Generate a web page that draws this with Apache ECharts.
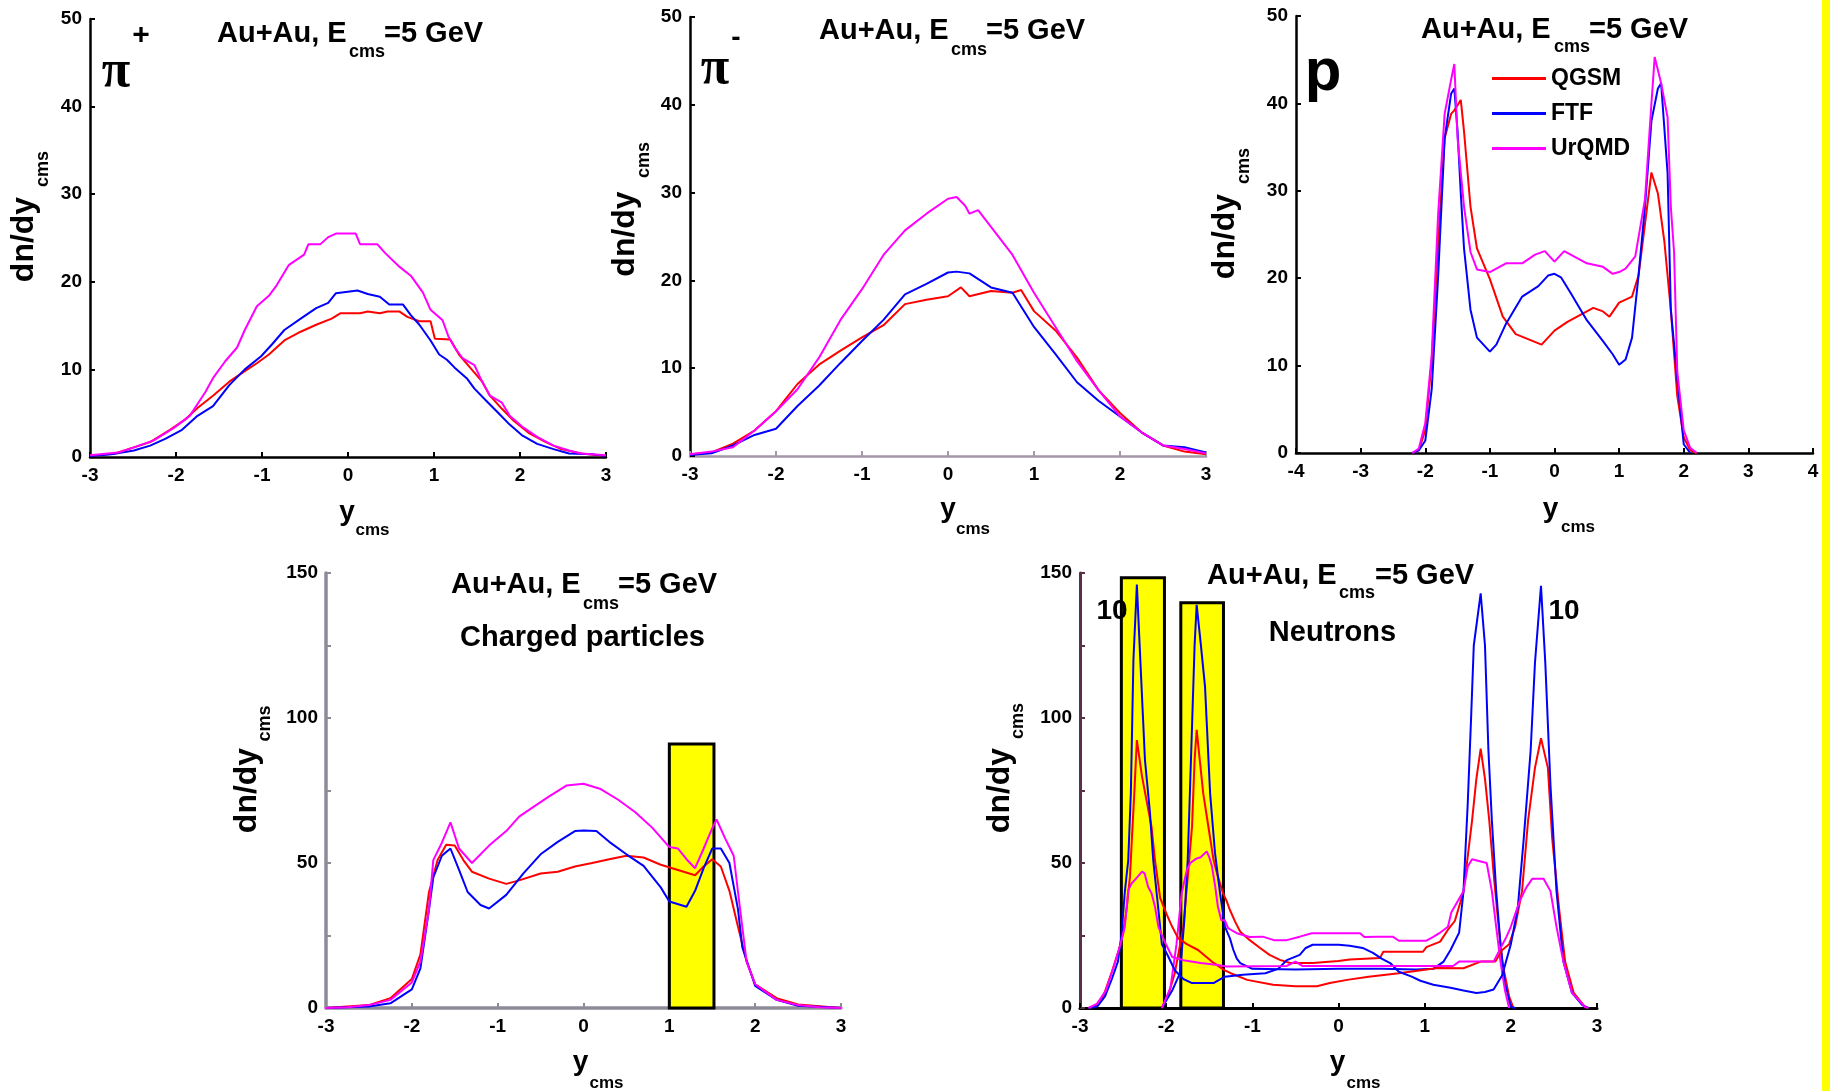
<!DOCTYPE html>
<html><head><meta charset="utf-8">
<script src="https://cdn.jsdelivr.net/npm/echarts/dist/echarts.min.js"></script>
<style>html,body{margin:0;padding:0;background:#fff}#c{width:1830px;height:1091px}</style>
</head><body><div id="c"></div>
<script>
// ---------- DATA ----------
const models = ['QGSM', 'FTF', 'UrQMD'];
const xTicks3 = [-3, -2, -1, 0, 1, 2, 3];
const xTicks4 = [-4, -3, -2, -1, 0, 1, 2, 3, 4];

// pi+
const piPlusQGSM = [[-3,0.1],[-2.71,0.4],[-2.49,1.1],[-2.3,1.7],[-2.07,3.1],[-1.89,4.3],[-1.75,5.6],[-1.57,7],[-1.38,8.6],[-1.2,9.8],[-1.06,10.7],[-0.92,11.7],[-0.74,13.3],[-0.55,14.3],[-0.37,15.1],[-0.19,15.8],[-0.09,16.4],[0.14,16.4],[0.23,16.6],[0.37,16.4],[0.46,16.6],[0.6,16.6],[0.69,16],[0.83,15.5],[0.96,15.5],[1.01,13.5],[1.19,13.4],[1.29,11.7],[1.42,10.2],[1.56,8.6],[1.65,7],[1.79,5.5],[1.93,4.1],[2.11,2.7],[2.3,1.7],[2.48,0.9],[2.71,0.4],[3,0.1]];
const piPlusFTF = [[-3,0.1],[-2.75,0.3],[-2.49,0.75],[-2.3,1.3],[-2.12,2.1],[-1.93,3.1],[-1.75,4.7],[-1.57,5.8],[-1.38,8.2],[-1.2,10],[-1.01,11.5],[-0.88,12.9],[-0.74,14.5],[-0.55,15.8],[-0.37,17],[-0.23,17.6],[-0.14,18.7],[0.11,19],[0.23,18.6],[0.37,18.3],[0.48,17.4],[0.64,17.4],[0.73,16.2],[0.83,15.1],[0.96,13.3],[1.06,11.7],[1.15,11.1],[1.24,10.2],[1.38,9],[1.47,7.8],[1.61,6.4],[1.74,5.1],[1.88,3.7],[2.02,2.5],[2.2,1.5],[2.39,0.9],[2.57,0.4],[2.85,0.3],[3,0.1]];
const piPlusUrQMD = [[-3,0.2],[-2.67,0.5],[-2.49,1.1],[-2.26,1.9],[-2.03,3.3],[-1.84,4.7],[-1.66,7.4],[-1.57,9],[-1.43,10.9],[-1.29,12.5],[-1.2,14.5],[-1.06,17.2],[-0.92,18.4],[-0.83,19.6],[-0.69,21.9],[-0.51,23.1],[-0.46,24.3],[-0.32,24.3],[-0.23,25.1],[-0.14,25.5],[0.09,25.5],[0.14,24.3],[0.34,24.3],[0.43,23.3],[0.6,21.7],[0.73,20.7],[0.87,18.8],[0.96,16.8],[1.1,15.6],[1.17,13.7],[1.24,12.5],[1.33,11.3],[1.47,10.5],[1.54,9],[1.65,7],[1.79,6.2],[1.88,4.7],[2.02,3.5],[2.2,2.3],[2.39,1.3],[2.57,0.75],[2.71,0.4],[3,0.2]];

// pi-
const piMinusQGSM = [[-3,0.2],[-2.75,0.4],[-2.5,1.4],[-2.25,2.9],[-2,5.1],[-1.75,8.2],[-1.5,10.4],[-1.25,12],[-1,13.5],[-0.75,14.9],[-0.5,17.3],[-0.25,17.8],[0,18.2],[0.15,19.2],[0.25,18.2],[0.5,18.8],[0.75,18.6],[0.85,18.9],[1,16.5],[1.25,14.3],[1.5,11.2],[1.75,7.5],[2,4.9],[2.25,2.7],[2.5,1.2],[2.75,0.5],[3,0.2]];
const piMinusFTF = [[-3,0.1],[-2.75,0.3],[-2.5,1.2],[-2.25,2.4],[-2,3.1],[-1.75,5.7],[-1.5,8],[-1.25,10.6],[-1,13.1],[-0.75,15.5],[-0.5,18.4],[-0.25,19.6],[0,20.9],[0.1,21],[0.25,20.8],[0.5,19.2],[0.75,18.6],[1,14.7],[1.25,11.6],[1.5,8.4],[1.75,6.3],[2,4.5],[2.25,2.7],[2.5,1.2],[2.75,1],[3,0.4]];
const piMinusUrQMD = [[-3,0.2],[-2.75,0.5],[-2.5,1],[-2.25,2.9],[-2,5.1],[-1.75,7.6],[-1.5,11.2],[-1.25,15.5],[-1,19],[-0.75,22.9],[-0.5,25.7],[-0.25,27.6],[0,29.3],[0.1,29.5],[0.2,28.5],[0.25,27.6],[0.35,28],[0.5,26.1],[0.75,22.9],[1,18.6],[1.25,14.7],[1.5,10.8],[1.75,7.5],[2,4.5],[2.25,2.7],[2.5,1.2],[2.75,0.8],[3,0.3]];

// protons
const protonQGSM = [[-2.2,0],[-2.1,0.3],[-2,2.6],[-1.9,10.5],[-1.8,24.2],[-1.7,36],[-1.6,38.8],[-1.55,39.2],[-1.45,40.4],[-1.4,36.8],[-1.3,28.2],[-1.2,23.4],[-1,19.9],[-0.8,15.6],[-0.6,13.6],[-0.4,13],[-0.2,12.4],[0,14],[0.2,15],[0.4,15.8],[0.6,16.6],[0.75,16.2],[0.85,15.6],[1,17.2],[1.2,17.9],[1.3,20.3],[1.4,26.2],[1.5,32.1],[1.6,29.7],[1.7,24.2],[1.8,16.4],[1.9,6.5],[2,1.8],[2.1,0.3],[2.2,0]];
const protonFTF = [[-2.2,0],[-2.1,0.3],[-2,1.4],[-1.9,7.3],[-1.8,20.3],[-1.7,36],[-1.6,41.1],[-1.55,41.7],[-1.5,36.8],[-1.45,29.7],[-1.4,23.4],[-1.3,16.4],[-1.2,13.2],[-1,11.6],[-0.9,12.4],[-0.75,14.8],[-0.5,17.9],[-0.25,19.1],[-0.1,20.3],[0,20.5],[0.1,20.1],[0.25,18.3],[0.5,15.2],[0.75,12.8],[0.9,11.3],[1,10.1],[1.1,10.7],[1.2,13.2],[1.3,20.3],[1.4,28.2],[1.5,38],[1.6,41.7],[1.65,42.3],[1.75,32],[1.8,16.4],[1.9,8.5],[2,1],[2.1,0]];
const protonUrQMD = [[-2.2,0],[-2.1,0.5],[-2,3.4],[-1.9,11.2],[-1.8,27.4],[-1.7,38.8],[-1.6,42.7],[-1.55,44.5],[-1.5,36],[-1.4,28.2],[-1.3,23],[-1.2,21],[-1,20.7],[-0.9,21.1],[-0.75,21.7],[-0.5,21.7],[-0.3,22.7],[-0.15,23.1],[0,21.9],[0.15,23.1],[0.3,22.5],[0.5,21.7],[0.75,21.3],[0.9,20.5],[1,20.7],[1.1,21.1],[1.25,22.5],[1.4,29],[1.5,40],[1.55,45.3],[1.65,42.3],[1.75,38.4],[1.8,28.2],[1.85,23],[1.9,9.3],[2,2.6],[2.1,0.6],[2.2,0]];

// charged particles
const chargedQGSM = [[-3,0],[-2.5,1],[-2.25,3.4],[-2,10],[-1.9,18.5],[-1.8,40],[-1.7,51],[-1.6,56.3],[-1.5,56],[-1.4,51],[-1.3,47],[-1.1,44.6],[-0.9,42.8],[-0.75,44],[-0.5,46.4],[-0.3,47],[-0.1,48.8],[0.1,50],[0.3,51.3],[0.5,52.5],[0.7,51.9],[0.9,49.4],[1.1,47.6],[1.3,45.8],[1.4,48.8],[1.5,51.3],[1.6,48.8],[1.7,40.4],[1.8,28],[1.9,16],[2,8.2],[2.25,3.4],[2.5,1.2],[3,0]];
const chargedFTF = [[-3,0],[-2.5,0.5],[-2.25,1.6],[-2,6.4],[-1.9,13.7],[-1.8,34],[-1.75,45],[-1.65,52.5],[-1.55,55],[-1.45,47.6],[-1.35,40],[-1.2,35.5],[-1.1,34.3],[-0.9,39],[-0.7,46.4],[-0.5,53],[-0.3,57.3],[-0.1,61],[0,61.2],[0.15,61],[0.3,57.3],[0.5,53],[0.7,49],[0.9,41.6],[1,36.7],[1.2,34.9],[1.3,40.4],[1.4,48.2],[1.5,55],[1.6,55],[1.7,50],[1.8,34],[1.85,21],[2,7.6],[2.25,2.8],[2.5,0.8],[3,0]];
const chargedUrQMD = [[-3,0],[-2.75,0.3],[-2.5,1],[-2.25,2.8],[-2,8.8],[-1.9,16],[-1.8,34],[-1.75,51],[-1.65,57],[-1.55,64],[-1.45,55],[-1.3,50],[-1.1,56],[-0.9,61],[-0.75,66],[-0.6,69],[-0.4,73],[-0.2,76.7],[0,77.3],[0.2,75.5],[0.4,71.9],[0.6,67.6],[0.8,62.2],[1,55.5],[1.1,55],[1.2,51.3],[1.3,48.2],[1.4,55],[1.5,62],[1.55,65],[1.65,58.5],[1.75,52.5],[1.8,40],[1.9,16],[2,8.2],[2.25,2.8],[2.5,1],[2.75,0.3],[3,0]];
const chargedBox = [1.0, 1.52, 91];           // x from, x to, height

// neutrons: curves peaking near +-1.65, and curves (x10) peaking near +-2.35
const neutronQGSM = [[-2.05,0],[-1.98,4],[-1.9,12],[-1.8,28],[-1.75,45],[-1.7,62.5],[-1.67,85.5],[-1.646,95.9],[-1.61,85.5],[-1.57,74],[-1.51,62.5],[-1.45,51],[-1.4,45.3],[-1.34,39.6],[-1.3,37],[-1.26,33.8],[-1.2,29.8],[-1.14,26.3],[-1.03,23.4],[-0.91,20.7],[-0.8,18.3],[-0.68,16.6],[-0.56,15.5],[-0.3,15.5],[0,16.2],[0.13,16.7],[0.48,17.2],[0.52,19.4],[0.98,19.4],[1.02,21],[1.18,22.9],[1.27,27],[1.35,30],[1.45,40],[1.55,64.6],[1.6,79],[1.65,89.4],[1.7,79],[1.75,64.6],[1.8,46.4],[1.85,30.7],[1.9,16],[1.98,4],[2.03,0]];
const neutronFTF = [[-2.05,0],[-1.93,6],[-1.84,12],[-1.79,30],[-1.75,51],[-1.7,97],[-1.67,125],[-1.646,139],[-1.6,126],[-1.549,110.8],[-1.49,74],[-1.433,53.4],[-1.375,39.6],[-1.317,28],[-1.26,24],[-1.22,20],[-1.18,17],[-1.14,15.5],[-1,13.5],[-0.5,13.3],[0,13.5],[0.5,13.5],[0.9,13.3],[1.1,13.5],[1.22,16],[1.3,20],[1.4,26],[1.45,40],[1.5,70.6],[1.54,101],[1.57,125],[1.65,143],[1.7,125],[1.74,88.8],[1.78,64.6],[1.83,40.3],[1.88,22],[1.93,8.8],[2,0.4],[2.05,0]];
const neutronUrQMD = [[-2.05,0],[-1.95,7],[-1.88,22],[-1.82,39.6],[-1.76,47.6],[-1.72,50],[-1.65,51.5],[-1.6,52],[-1.53,54],[-1.5,52],[-1.47,49],[-1.43,41.8],[-1.4,35],[-1.36,30.3],[-1.32,30.3],[-1.28,27.5],[-1.18,25.8],[-1.03,24.5],[-0.88,24.6],[-0.75,23.4],[-0.6,23.4],[-0.45,24.6],[-0.31,25.8],[0.25,25.8],[0.3,24.5],[0.45,24.6],[0.63,24.6],[0.7,23.2],[1.02,23.2],[1.1,24.5],[1.17,25.8],[1.27,28],[1.31,33],[1.45,40.3],[1.5,48.8],[1.55,51.3],[1.72,50],[1.78,40.3],[1.83,28],[1.88,16],[1.93,6.4],[1.98,0]];
const neutronQGSMx10 = [[-2.9,0],[-2.83,0.5],[-2.73,4],[-2.63,12.5],[-2.55,20],[-2.5,25.7],[-2.46,33.8],[-2.42,45.3],[-2.4,57],[-2.37,74],[-2.34,92.4],[-2.28,79.8],[-2.17,62.5],[-2.13,51],[-2.07,38],[-1.99,32],[-1.93,28],[-1.86,24],[-1.76,22],[-1.63,20],[-1.47,16],[-1.32,13],[-1.25,12],[-1.06,9.7],[-0.76,8],[-0.5,7.5],[-0.25,7.5],[-0.1,8.6],[0.1,9.7],[0.35,10.8],[0.7,12],[1.15,13.8],[1.45,13.7],[1.65,16],[1.82,16],[1.9,20],[1.98,22],[2.05,28],[2.13,40.3],[2.2,64.6],[2.28,82.8],[2.35,93],[2.43,82.8],[2.48,58.5],[2.56,34.3],[2.63,16],[2.73,5.2],[2.86,0.4],[2.9,0]];
const neutronFTFx10 = [[-2.9,0],[-2.8,0.5],[-2.71,4],[-2.63,10],[-2.56,16],[-2.52,24.6],[-2.48,40],[-2.44,51],[-2.41,74],[-2.38,120],[-2.34,146],[-2.3,120],[-2.246,85.5],[-2.19,68],[-2.15,51],[-2.09,33.8],[-2.05,22],[-1.98,18],[-1.9,13],[-1.8,10],[-1.7,8.6],[-1.45,8.6],[-1.32,10.8],[-1.11,11.5],[-0.85,12],[-0.7,13.5],[-0.6,16.5],[-0.45,18.3],[-0.38,20.7],[-0.3,21.8],[0,21.8],[0.13,21.5],[0.28,20.7],[0.4,19],[0.5,17],[0.6,15.5],[0.7,12.5],[0.85,10.8],[0.95,9.4],[1.1,8],[1.3,7],[1.45,6],[1.6,5.2],[1.7,5.5],[1.8,6.4],[1.9,11.3],[2,22],[2.08,34.3],[2.15,58.5],[2.23,88.8],[2.28,119],[2.35,145.6],[2.4,119],[2.46,76.7],[2.53,40.3],[2.61,16],[2.71,5.2],[2.83,1],[2.9,0]];
const neutronUrQMDx10 = [[-2.9,0],[-2.8,1.5],[-2.7,6],[-2.6,15],[-2.53,22],[-2.48,28],[-2.44,40.7],[-2.4,43],[-2.33,45.3],[-2.28,47],[-2.25,46.4],[-2.21,41.8],[-2.17,39.6],[-2.13,35],[-2.09,28],[-2.01,22.4],[-1.93,17.6],[-1.8,16.5],[-1.6,15.5],[-1.4,14.8],[-1.3,14.3],[-0.6,14.5],[-0.5,16],[-0.42,14.5],[0.5,14.5],[1.33,14.5],[1.4,16],[1.8,16],[1.95,24.6],[2,28],[2.1,36.7],[2.18,41.6],[2.25,44.6],[2.38,44.6],[2.46,40.3],[2.53,28],[2.61,16],[2.71,5.2],[2.86,0.4],[2.9,0]];
const neutronBoxes = [[-2.52, -2.02, 148.4], [-1.83, -1.335, 139.7]];

// ---------- LAYOUT / STYLE ----------
const FONT = '"Liberation Sans", Arial, sans-serif';
const COLORS = { QGSM: '#ff0000', FTF: '#0000ff', UrQMD: '#ff00ff' };
const grids = [
  { left: 90, top: 19, width: 516, height: 438 },
  { left: 690, top: 17, width: 516, height: 439 },
  { left: 1296, top: 16, width: 517, height: 437 },
  { left: 326, top: 573, width: 515, height: 435 },
  { left: 1080, top: 573, width: 517, height: 435 }
];
const axisCfg = [
  { xt: xTicks3, ymax: 50, yint: 10, xc: '#000', yc: '#000', w: 2.5 },
  { xt: xTicks3, ymax: 50, yint: 10, xc: '#a597a8', yc: '#000', w: 2.5 },
  { xt: xTicks4, ymax: 50, yint: 10, xc: '#000', yc: '#000', w: 2.5 },
  { xt: xTicks3, ymax: 150, yint: 25, xc: '#8f8a98', yc: '#8f8a98', w: 3.5 },
  { xt: xTicks3, ymax: 150, yint: 25, xc: '#000', yc: '#5a3048', w: 3 }
];
const labelStyle = { color: '#000', fontSize: 19, fontWeight: 'bold', fontFamily: FONT };

const xAxis = axisCfg.map((a, i) => ({
  type: 'value', gridIndex: i, min: a.xt[0], max: a.xt[a.xt.length - 1], interval: 1,
  axisLine: { onZero: false, lineStyle: { color: a.xc, width: a.w } },
  axisTick: { inside: true, length: 5, lineStyle: { color: a.xc, width: 2 } },
  splitLine: { show: false },
  axisLabel: Object.assign({ margin: 9 }, labelStyle)
}));
const yAxis = axisCfg.map((a, i) => ({
  type: 'value', gridIndex: i, min: 0, max: a.ymax, interval: a.yint,
  axisLine: { onZero: false, lineStyle: { color: a.yc, width: a.w } },
  axisTick: { inside: true, length: 5, lineStyle: { color: a.yc, width: 2 } },
  splitLine: { show: false },
  axisLabel: Object.assign({ margin: 8, formatter: v => (a.ymax === 150 ? (v % 50 === 0 ? String(v) : '') : String(v)) }, labelStyle)
}));

function line(name, data, idx) {
  return { type: 'line', name, data, xAxisIndex: idx, yAxisIndex: idx, symbol: 'none', showSymbol: false,
    lineStyle: { width: 2, color: COLORS[name] }, itemStyle: { color: COLORS[name] }, z: 3, animation: false };
}
function boxes(idx, list) {
  return { type: 'line', name: 'box' + idx, data: [], xAxisIndex: idx, yAxisIndex: idx, z: 1, animation: false,
    markArea: { silent: true, itemStyle: { color: '#ffff00', borderColor: '#000', borderWidth: 3 },
      data: list.map(b => [{ xAxis: b[0], yAxis: 0 }, { xAxis: b[1], yAxis: b[2] }]) } };
}

const series = [
  boxes(3, [chargedBox]), boxes(4, neutronBoxes),
  line('QGSM', piPlusQGSM, 0), line('FTF', piPlusFTF, 0), line('UrQMD', piPlusUrQMD, 0),
  line('QGSM', piMinusQGSM, 1), line('FTF', piMinusFTF, 1), line('UrQMD', piMinusUrQMD, 1),
  line('QGSM', protonQGSM, 2), line('FTF', protonFTF, 2), line('UrQMD', protonUrQMD, 2),
  line('QGSM', chargedQGSM, 3), line('FTF', chargedFTF, 3), line('UrQMD', chargedUrQMD, 3),
  line('QGSM', neutronQGSM, 4), line('FTF', neutronFTF, 4), line('UrQMD', neutronUrQMD, 4),
  line('QGSM', neutronQGSMx10, 4), line('FTF', neutronFTFx10, 4), line('UrQMD', neutronUrQMDx10, 4)
];

// ---------- TEXT ----------
function T(text, x, y, font, opt) {
  opt = opt || {};
  return { type: 'text', x, y, rotation: opt.rot || 0, z: 10, silent: true,
    style: { text, x: 0, y: 0, font, fill: '#000', textAlign: opt.align || 'left', textVerticalAlign: 'middle' } };
}
const B = s => 'bold ' + s + 'px ' + FONT;
const R = Math.PI / 2;
const titleParts = [ // [mainX, mainY, subX, subY, restX]
  [217, 34, 349, 52.5, 384],
  [819, 31, 951, 50, 986],
  [1421, 29.5, 1554, 47.5, 1589],
  [451, 584.5, 583, 604.5, 618],
  [1207, 576, 1339, 593.5, 1375]
];
const graphics = [];
titleParts.forEach(t => {
  graphics.push(T('Au+Au, E', t[0], t[1], B(29)));
  graphics.push(T('cms', t[2], t[3], B(18)));
  graphics.push(T('=5 GeV', t[4], t[1], B(29)));
});
// y-axis names  [dn/dy x, y, cms x, y]
[[24, 239.5, 43, 169], [625, 234, 644.5, 160], [1225, 236.5, 1244.5, 166], [247, 790.5, 265, 723.5], [1000, 790.5, 1018, 721]]
  .forEach(p => {
    graphics.push(T('dn/dy', p[0], p[1], B(32), { rot: R, align: 'center' }));
    graphics.push(T('cms', p[2], p[3], B(18), { rot: R, align: 'center' }));
  });
// x-axis names [y x, y, cms x, y]
[[347, 512, 372.5, 530.5], [948, 509.5, 973, 529.5], [1550.5, 509.5, 1578, 527], [580.5, 1062, 606.5, 1083], [1337.5, 1062, 1363.5, 1083]]
  .forEach(p => {
    graphics.push(T('y', p[0], p[1], B(28), { align: 'center' }));
    graphics.push(T('cms', p[2], p[3], B(17), { align: 'center' }));
  });
// particle labels
graphics.push(T('π', 116, 73, 'bold 52px "Liberation Serif", serif', { align: 'center' }));
graphics.push(T('+', 141, 36, B(30), { align: 'center' }));
graphics.push(T('π', 715, 70, 'bold 52px "Liberation Serif", serif', { align: 'center' }));
graphics.push(T('-', 736, 38, B(28), { align: 'center' }));
graphics.push(T('p', 1323, 73, B(60), { align: 'center' }));
graphics.push(T('Charged particles', 582.5, 638, B(29), { align: 'center' }));
graphics.push(T('Neutrons', 1332.5, 632.5, B(29), { align: 'center' }));
graphics.push(T('10', 1112, 611, B(28), { align: 'center' }));
graphics.push(T('10', 1564, 611, B(28), { align: 'center' }));
// yellow strip at the right edge
graphics.push({ type: 'rect', shape: { x: 1822, y: 0, width: 8, height: 1091 }, style: { fill: '#ffff00' }, silent: true });

const chart = echarts.init(document.getElementById('c'), null, { renderer: 'canvas' });
chart.setOption({
  backgroundColor: '#ffffff',
  animation: false,
  grid: grids,
  xAxis, yAxis, series,
  legend: {
    data: models, orient: 'vertical', left: 1487, top: 62, itemWidth: 54, itemHeight: 3, itemGap: 12,
    icon: 'rect', selectedMode: false,
    textStyle: { fontSize: 23, fontWeight: 'bold', fontFamily: FONT, color: '#000', lineHeight: 22 }
  },
  graphic: graphics
});
</script></body></html>
